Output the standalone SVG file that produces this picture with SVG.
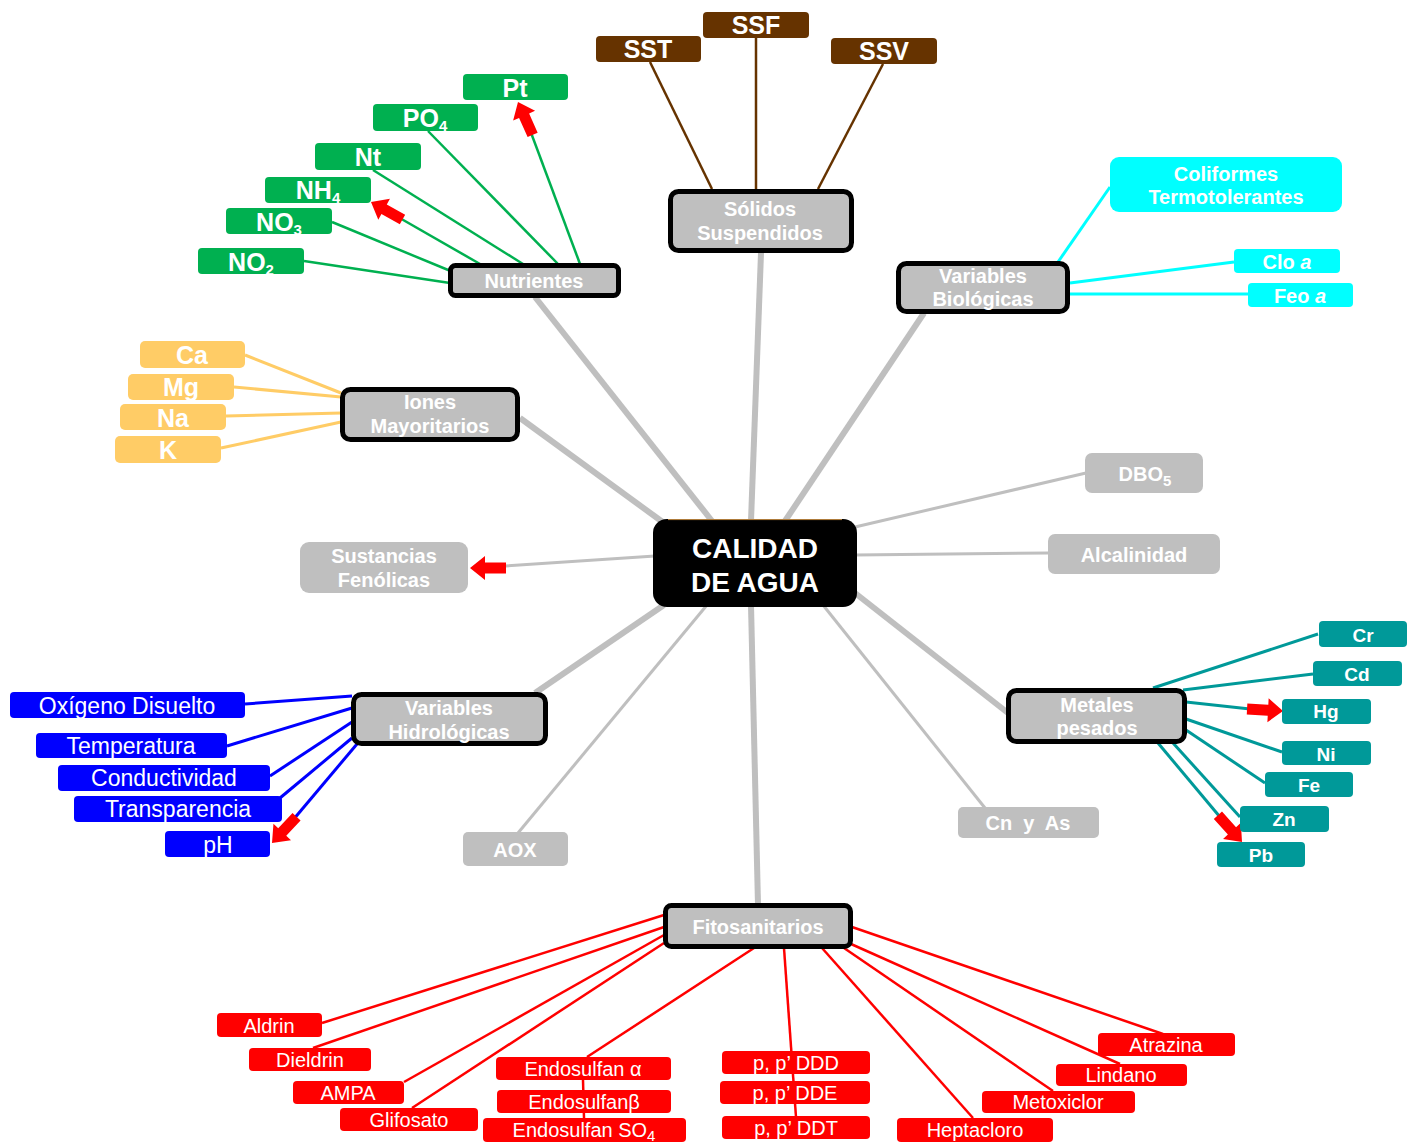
<svg xmlns="http://www.w3.org/2000/svg" width="1416" height="1142" viewBox="0 0 1416 1142">
<defs>
<style>
text{font-family:"Liberation Sans",Arial,sans-serif;fill:#fff;text-anchor:middle}
.b{font-weight:bold}
.cat rect{fill:#bfbfbf;stroke:#000;stroke-width:5}
.cat text{font-size:20px;font-weight:bold}
.gl rect{fill:#bfbfbf}
.gl text{font-size:20px;font-weight:bold}
.nu rect{fill:#00b050}
.nu text{font-size:25px;font-weight:bold}
.so rect{fill:#663300}
.so text{font-size:25px;font-weight:bold}
.bi rect{fill:#00ffff}
.bi text{font-size:20px;font-weight:bold}
.io rect{fill:#ffcc66}
.io text{font-size:25px;font-weight:bold}
.me rect{fill:#009999}
.me text{font-size:19px;font-weight:bold}
.hy rect{fill:#0000ff}
.hy text{font-size:23px}
.fi rect{fill:#ff0000}
.fi text{font-size:20px}
.sub{font-size:15px}
#connectors line{fill:none}
.thick{stroke:#bfbfbf;stroke-width:6}
.thin{stroke:#bfbfbf;stroke-width:3}
.cg{stroke:#00b050;stroke-width:2.5}
.cb{stroke:#663300;stroke-width:2.5}
.cc{stroke:#00ffff;stroke-width:3}
.ci{stroke:#ffcc66;stroke-width:3}
.ct{stroke:#009999;stroke-width:3}
.cu{stroke:#0000ff;stroke-width:3}
.cr{stroke:#ff0000;stroke-width:2.5}
.arr{fill:#ff0000}
</style>
<path id="blk" d="M0,0 L-15,-12 L-15,-5.5 L-36,-5.5 L-36,5.5 L-15,5.5 L-15,12 Z"/>
</defs>
<rect width="1416" height="1142" fill="#fff"/>

<g id="connectors">
<!-- main thick gray -->
<line class="thick" x1="535" y1="297" x2="712" y2="521"/>
<line class="thick" x1="520" y1="418" x2="664" y2="523"/>
<line class="thick" x1="761" y1="253" x2="751" y2="521"/>
<line class="thick" x1="924" y1="313" x2="785" y2="521"/>
<line class="thick" x1="855" y1="593" x2="1008" y2="713"/>
<line class="thick" x1="751" y1="605" x2="758" y2="905"/>
<line class="thick" x1="664" y1="605" x2="535" y2="693"/>
<!-- thin gray -->
<line class="thin" x1="855" y1="527" x2="1086" y2="473"/>
<line class="thin" x1="855" y1="555" x2="1048" y2="553"/>
<line class="thin" x1="823" y1="605" x2="985" y2="808"/>
<line class="thin" x1="707" y1="605" x2="518" y2="833"/>
<line class="thin" x1="505" y1="566" x2="655" y2="556"/>
<!-- nutrients -->
<line class="cg" x1="304" y1="261" x2="450" y2="283"/>
<line class="cg" x1="332" y1="222" x2="453" y2="272"/>
<line class="cg" x1="398" y1="217" x2="480" y2="264"/>
<line class="cg" x1="373" y1="170" x2="523" y2="264"/>
<line class="cg" x1="428" y1="131" x2="558" y2="264"/>
<line class="cg" x1="530" y1="130" x2="580" y2="264"/>
<!-- solids -->
<line class="cb" x1="650" y1="62" x2="712" y2="189"/>
<line class="cb" x1="756" y1="38" x2="756" y2="189"/>
<line class="cb" x1="883" y1="64" x2="818" y2="189"/>
<!-- biological -->
<line class="cc" x1="1110" y1="187" x2="1058" y2="262"/>
<line class="cc" x1="1234" y1="262" x2="1070" y2="283"/>
<line class="cc" x1="1248" y1="294" x2="1070" y2="294"/>
<!-- ions -->
<line class="ci" x1="245" y1="355" x2="341" y2="393"/>
<line class="ci" x1="234" y1="387" x2="341" y2="397"/>
<line class="ci" x1="226" y1="416" x2="341" y2="413"/>
<line class="ci" x1="221" y1="448" x2="341" y2="422"/>
<!-- metals -->
<line class="ct" x1="1318" y1="634" x2="1153" y2="688"/>
<line class="ct" x1="1313" y1="674" x2="1183" y2="690"/>
<line class="ct" x1="1250" y1="709" x2="1186" y2="702"/>
<line class="ct" x1="1282" y1="752" x2="1186" y2="719"/>
<line class="ct" x1="1265" y1="783" x2="1186" y2="730"/>
<line class="ct" x1="1240" y1="817" x2="1173" y2="743"/>
<line class="ct" x1="1220" y1="817" x2="1158" y2="743"/>
<!-- hydrological -->
<line class="cu" x1="245" y1="704" x2="352" y2="696"/>
<line class="cu" x1="227" y1="746" x2="352" y2="708"/>
<line class="cu" x1="270" y1="776" x2="352" y2="722"/>
<line class="cu" x1="280" y1="798" x2="352" y2="738"/>
<line class="cu" x1="293" y1="820" x2="357" y2="744"/>
<!-- pesticides -->
<line class="cr" x1="322" y1="1023" x2="664" y2="915"/>
<line class="cr" x1="313" y1="1048" x2="664" y2="927"/>
<line class="cr" x1="404" y1="1082" x2="664" y2="935"/>
<line class="cr" x1="412" y1="1108" x2="664" y2="943"/>
<line class="cr" x1="587" y1="1057" x2="754" y2="948"/>
<line class="cr" x1="583" y1="1080" x2="584" y2="1118"/>
<line class="cr" x1="784" y1="948" x2="796" y2="1117"/>
<line class="cr" x1="822" y1="948" x2="973" y2="1118"/>
<line class="cr" x1="844" y1="948" x2="1053" y2="1091"/>
<line class="cr" x1="851" y1="944" x2="1120" y2="1064"/>
<line class="cr" x1="852" y1="927" x2="1163" y2="1034"/>
</g>

<g id="arrows">
<use href="#blk" class="arr" transform="translate(518,102) rotate(-114)"/>
<use href="#blk" class="arr" transform="translate(371,202) rotate(-151)"/>
<use href="#blk" class="arr" transform="translate(470,568) rotate(180)"/>
<use href="#blk" class="arr" transform="translate(1283,711) rotate(3)"/>
<use href="#blk" class="arr" transform="translate(1242,842) rotate(48)"/>
<use href="#blk" class="arr" transform="translate(272,843) rotate(133)"/>
</g>

<g id="center">
<rect x="653" y="519" width="204" height="88" rx="14" fill="#000"/>
<line x1="668" y1="519.6" x2="842" y2="519.6" stroke="#c08840" stroke-width="1"/>
<text x="755" y="558" class="b" font-size="28">CALIDAD</text>
<text x="755" y="592" class="b" font-size="28">DE AGUA</text>
</g>

<!-- categories -->
<g id="nutrientes" class="cat"><rect x="450.5" y="265.5" width="168" height="30" rx="5"/><text x="534" y="288">Nutrientes</text></g>
<g id="solidos" class="cat"><rect x="670.5" y="191.5" width="181" height="59" rx="8"/><text x="760" y="216">Sólidos</text><text x="760" y="240">Suspendidos</text></g>
<g id="biologicas" class="cat"><rect x="898.5" y="263.5" width="169" height="48" rx="8"/><text x="983" y="283">Variables</text><text x="983" y="306">Biológicas</text></g>
<g id="iones" class="cat"><rect x="342.5" y="389.5" width="175" height="50" rx="8"/><text x="430" y="409">Iones</text><text x="430" y="433">Mayoritarios</text></g>
<g id="metales" class="cat"><rect x="1008.5" y="690.5" width="176" height="51" rx="8"/><text x="1097" y="712">Metales</text><text x="1097" y="735">pesados</text></g>
<g id="hidrologicas" class="cat"><rect x="353.5" y="694.5" width="192" height="49" rx="8"/><text x="449" y="715">Variables</text><text x="449" y="739">Hidrológicas</text></g>
<g id="fitosanitarios" class="cat"><rect x="665.5" y="905.5" width="185" height="41" rx="6"/><text x="758" y="934">Fitosanitarios</text></g>

<!-- gray leaves -->
<g id="fenolicas" class="gl"><rect x="300" y="542" width="168" height="51" rx="9"/><text x="384" y="563">Sustancias</text><text x="384" y="587">Fenólicas</text></g>
<g id="dbo5" class="gl"><rect x="1085" y="453" width="118" height="40" rx="7"/><text x="1145" y="481">DBO<tspan class="sub" dy="5">5</tspan></text></g>
<g id="alcalinidad" class="gl"><rect x="1048" y="534" width="172" height="40" rx="7"/><text x="1134" y="562">Alcalinidad</text></g>
<g id="cnas" class="gl"><rect x="958" y="807" width="141" height="31" rx="5"/><text x="1028" y="830" font-size="19" style="white-space:pre">Cn  y  As</text></g>
<g id="aox" class="gl"><rect x="463" y="832" width="105" height="34" rx="5"/><text x="515" y="857">AOX</text></g>

<!-- nutrients leaves -->
<g id="pt" class="nu"><rect x="463" y="74" width="105" height="26" rx="4"/><text x="515" y="97">Pt</text></g>
<g id="po4" class="nu"><rect x="373" y="104" width="105" height="27" rx="4"/><text x="425" y="127">PO<tspan class="sub" dy="4">4</tspan></text></g>
<g id="nt" class="nu"><rect x="315" y="143" width="106" height="27" rx="4"/><text x="368" y="166">Nt</text></g>
<g id="nh4" class="nu"><rect x="265" y="177" width="106" height="26" rx="4"/><text x="318" y="199">NH<tspan class="sub" dy="4">4</tspan></text></g>
<g id="no3" class="nu"><rect x="226" y="208" width="106" height="26" rx="4"/><text x="279" y="231">NO<tspan class="sub" dy="4">3</tspan></text></g>
<g id="no2" class="nu"><rect x="198" y="248" width="106" height="26" rx="4"/><text x="251" y="271">NO<tspan class="sub" dy="4">2</tspan></text></g>

<!-- solids leaves -->
<g id="sst" class="so"><rect x="596" y="36" width="105" height="26" rx="4"/><text x="648" y="58">SST</text></g>
<g id="ssf" class="so"><rect x="703" y="12" width="106" height="26" rx="4"/><text x="756" y="34" font-size="22">SSF</text></g>
<g id="ssv" class="so"><rect x="831" y="38" width="106" height="26" rx="4"/><text x="884" y="60" font-size="22">SSV</text></g>

<!-- biological leaves -->
<g id="coliformes" class="bi"><rect x="1110" y="157" width="232" height="55" rx="9"/><text x="1226" y="181">Coliformes</text><text x="1226" y="204">Termotolerantes</text></g>
<g id="clo" class="bi"><rect x="1234" y="249" width="106" height="24" rx="4"/><text x="1287" y="269">Clo <tspan font-style="italic">a</tspan></text></g>
<g id="feo" class="bi"><rect x="1248" y="283" width="105" height="24" rx="4"/><text x="1300" y="303">Feo <tspan font-style="italic">a</tspan></text></g>

<!-- ions leaves -->
<g id="ca" class="io"><rect x="140" y="341" width="105" height="27" rx="5"/><text x="192" y="364">Ca</text></g>
<g id="mg" class="io"><rect x="128" y="374" width="106" height="26" rx="5"/><text x="181" y="396">Mg</text></g>
<g id="na" class="io"><rect x="120" y="404" width="106" height="26" rx="5"/><text x="173" y="427">Na</text></g>
<g id="k" class="io"><rect x="115" y="436" width="106" height="27" rx="5"/><text x="168" y="459">K</text></g>

<!-- metal leaves -->
<g id="cr" class="me"><rect x="1319" y="621" width="88" height="26" rx="4"/><text x="1363" y="642">Cr</text></g>
<g id="cd" class="me"><rect x="1313" y="661" width="89" height="25" rx="4"/><text x="1357" y="681">Cd</text></g>
<g id="hg" class="me"><rect x="1282" y="699" width="89" height="25" rx="4"/><text x="1326" y="718">Hg</text></g>
<g id="ni" class="me"><rect x="1282" y="741" width="89" height="24" rx="4"/><text x="1326" y="761">Ni</text></g>
<g id="fe" class="me"><rect x="1265" y="772" width="88" height="25" rx="4"/><text x="1309" y="792">Fe</text></g>
<g id="zn" class="me"><rect x="1240" y="806" width="89" height="26" rx="4"/><text x="1284" y="826">Zn</text></g>
<g id="pb" class="me"><rect x="1217" y="842" width="88" height="25" rx="4"/><text x="1261" y="862">Pb</text></g>

<!-- hydrological leaves -->
<g id="oxigeno" class="hy"><rect x="10" y="692" width="235" height="26" rx="4"/><text x="127" y="714">Oxígeno Disuelto</text></g>
<g id="temperatura" class="hy"><rect x="36" y="733" width="191" height="25" rx="4"/><text x="131" y="754">Temperatura</text></g>
<g id="conductividad" class="hy"><rect x="58" y="765" width="212" height="26" rx="4"/><text x="164" y="786">Conductividad</text></g>
<g id="transparencia" class="hy"><rect x="74" y="796" width="208" height="26" rx="4"/><text x="178" y="817">Transparencia</text></g>
<g id="ph" class="hy"><rect x="165" y="831" width="105" height="26" rx="4"/><text x="218" y="853">pH</text></g>

<!-- pesticide leaves -->
<g id="aldrin" class="fi"><rect x="217" y="1013" width="105" height="24" rx="4"/><text x="269" y="1033">Aldrin</text></g>
<g id="dieldrin" class="fi"><rect x="249" y="1048" width="122" height="23" rx="4"/><text x="310" y="1067">Dieldrin</text></g>
<g id="ampa" class="fi"><rect x="293" y="1081" width="111" height="23" rx="4"/><text x="348" y="1100">AMPA</text></g>
<g id="glifosato" class="fi"><rect x="340" y="1108" width="138" height="23" rx="4"/><text x="409" y="1127">Glifosato</text></g>
<g id="endoa" class="fi"><rect x="496" y="1057" width="175" height="23" rx="4"/><text x="583" y="1076">Endosulfan α</text></g>
<g id="endob" class="fi"><rect x="497" y="1090" width="174" height="23" rx="4"/><text x="584" y="1109">Endosulfanβ</text></g>
<g id="endoso4" class="fi"><rect x="483" y="1118" width="203" height="24" rx="4"/><text x="584" y="1137">Endosulfan SO<tspan class="sub" dy="4">4</tspan></text></g>
<g id="ddd" class="fi"><rect x="722" y="1051" width="148" height="23" rx="4"/><text x="796" y="1070">p, p’ DDD</text></g>
<g id="dde" class="fi"><rect x="720" y="1081" width="150" height="23" rx="4"/><text x="795" y="1100">p, p’ DDE</text></g>
<g id="ddt" class="fi"><rect x="722" y="1116" width="148" height="23" rx="4"/><text x="796" y="1135">p, p’ DDT</text></g>
<g id="heptacloro" class="fi"><rect x="897" y="1118" width="156" height="24" rx="4"/><text x="975" y="1137">Heptacloro</text></g>
<g id="metoxiclor" class="fi"><rect x="982" y="1091" width="153" height="22" rx="4"/><text x="1058" y="1109">Metoxiclor</text></g>
<g id="lindano" class="fi"><rect x="1056" y="1064" width="131" height="22" rx="4"/><text x="1121" y="1082">Lindano</text></g>
<g id="atrazina" class="fi"><rect x="1098" y="1033" width="137" height="23" rx="4"/><text x="1166" y="1052">Atrazina</text></g>
</svg>
